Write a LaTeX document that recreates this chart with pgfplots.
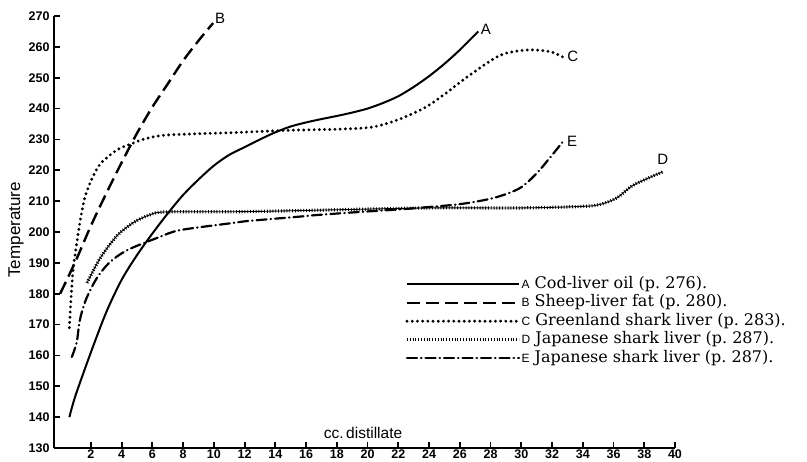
\documentclass[border=0pt]{standalone}
\usepackage{fontspec}
\setsansfont{Liberation Sans}
\newfontfamily\legfont{DejaVu Serif}
\usepackage{pgfplots}
\pgfplotsset{compat=1.18}
\begin{document}
\begin{tikzpicture}
\begin{axis}[
  at={(54pt,14pt)}, anchor=south west,
  scale only axis, width=621pt, height=432pt,
  xmin=-0.4, xmax=40, ymin=130, ymax=270,
  axis x line*=bottom, axis y line*=left,
  axis line style={line width=2.6pt,-},
  xtick={2,4,...,40}, ytick={130,140,...,270},
  tick align=inside, major tick length=6pt,
  tick style={line width=1.8pt,black},
  /pgf/number format/assume math mode=true,
  ticklabel style={font=\sffamily\bfseries\fontsize{12.5}{13}\selectfont},
  yticklabel style={xshift=-1pt},
  xticklabel style={yshift=2pt},
  xlabel={cc.\,distillate},
  xlabel style={at={(axis description cs:0.4976,0.035)}, anchor=center, font=\sffamily\fontsize{15.5}{16}\selectfont},
  ylabel={Temperature},
  ylabel style={at={(axis description cs:-0.061,0.505)}, anchor=center, font=\sffamily\fontsize{17}{18}\selectfont},
  clip=false,
  legend image code/.code={\draw[#1] (0pt,0pt) -- (112pt,0pt);},
  legend cell align=left,
  legend style={draw=none, fill=none, at={(axis cs:22.45,185.9)}, anchor=north west,
    inner sep=0pt, row sep=1.5pt,
    font=\legfont\fontsize{16}{18}\selectfont,
    nodes={inner sep=1pt, text height=11.5pt, text depth=3.5pt},
    /tikz/every even column/.append style={column sep=0pt}},
]
% A Cod-liver oil
\addplot[black, line width=2pt, smooth] coordinates {
 (0.6,140) (1,147) (2,161) (3,174) (4,184.5) (5,192.5) (6,199.5) (7,206)
 (8,212) (9,217) (10,221.5) (11,225) (12,227.5) (13,230) (14,232.3)
 (15,234.2) (16,235.5) (17,236.6) (18,237.6) (19,238.7) (20,240) (21,241.8)
 (22,244) (23,247) (24,250.5) (25,254.5) (26,259) (27.2,265)};
\addlegendentry{{\sffamily\fontsize{12}{12}\selectfont A}\ Cod-liver oil (p.~276).}
% B Sheep-liver fat
\addplot[black, line width=2.4pt, dash pattern=on 13pt off 6pt, smooth] coordinates {
 (0,180) (1,190.5) (2,202) (3,212.5) (4,222.5) (5,232) (6,240.5) (7,248)
 (8,255.5) (9,262) (9.95,267.7)};
\addlegendentry{{\sffamily\fontsize{12}{12}\selectfont B}\ Sheep-liver fat (p.~280).}
% C Greenland shark liver
\addplot[black, line width=3.2pt, line cap=round, dash pattern=on 0pt off 5.2pt, smooth] coordinates {
 (0.6,169) (0.7,178) (0.85,188) (1.1,197) (1.35,205) (1.6,211) (2.0,216.5)
 (2.6,222) (3.7,226.6) (4.75,228.8) (5.4,230) (6.9,231.4) (11.2,232.2)
 (15.2,233) (18,233.3) (20.3,234) (22.1,236.6) (23.8,240.5) (25.1,245)
 (26.5,250.3) (28.6,257.2) (30.4,259) (31.9,258.4) (32.7,256.7)};
\addlegendentry{{\sffamily\fontsize{12}{12}\selectfont C}\ Greenland shark liver (p.~283).}
% D Japanese shark liver (thin core line)
\addplot[black, line width=0.9pt, smooth, forget plot] coordinates {
 (1.75,183.5) (2.6,191.5) (3.7,198.8) (4.75,203) (5.8,205.5) (6.9,206.5)
 (12,206.6) (18,207.2) (24,207.8) (30,207.8) (34,208.3) (35.1,208.9)
 (36.2,211) (37.3,215.2) (39.2,219.5)};
% D Japanese shark liver (wavy texture)
\addplot[black, line width=3.2pt, dash pattern=on 0.9pt off 1.9pt, smooth,
  legend image code/.code={\draw[black,line width=0.9pt] (0pt,0pt) -- (112pt,0pt); \draw[black,line width=3.2pt,dash pattern=on 0.9pt off 1.9pt] (0pt,0pt) -- (112pt,0pt);}] coordinates {
 (1.75,183.5) (2.6,191.5) (3.7,198.8) (4.75,203) (5.8,205.5) (6.9,206.5)
 (12,206.6) (18,207.2) (24,207.8) (30,207.8) (34,208.3) (35.1,208.9)
 (36.2,211) (37.3,215.2) (39.2,219.5)};
\addlegendentry{{\sffamily\fontsize{12}{12}\selectfont D}\ Japanese shark liver (p.~287).}
% E Japanese shark liver
\addplot[black, line width=2.2pt, line cap=round, dash pattern=on 10pt off 4pt on 0.5pt off 4pt, smooth] coordinates {
 (0.76,159.5) (1.08,164.3) (1.28,171.4) (1.67,178) (2.38,185) (3.23,190.2)
 (4.4,194.2) (6.48,198.4) (7.8,200.6) (11.2,202.9) (12.3,203.6) (15.4,204.9)
 (16.7,205.5) (19.5,206.5) (22,207.3) (25.4,208.7) (26.9,209.7) (28.4,211.3)
 (29.9,214.2) (31,219) (31.9,224.3) (32.7,229.2)};
\addlegendentry{{\sffamily\fontsize{12}{12}\selectfont E}\ Japanese shark liver (p.~287).}
% curve labels
\node[font=\sffamily\fontsize{15}{15}\selectfont, anchor=west, inner sep=1pt] at (axis cs:27.3,265.8) {A};
\node[font=\sffamily\fontsize{15}{15}\selectfont, anchor=west, inner sep=1pt] at (axis cs:10.0,269.2) {B};
\node[font=\sffamily\fontsize{15}{15}\selectfont, anchor=center] at (axis cs:33.35,257) {C};
\node[font=\sffamily\fontsize{15}{15}\selectfont, anchor=center] at (axis cs:39.2,223.5) {D};
\node[font=\sffamily\fontsize{15}{15}\selectfont, anchor=center] at (axis cs:33.3,229.5) {E};
\end{axis}
\pgfresetboundingbox
\useasboundingbox (0,0) rectangle (807pt,462pt);
\end{tikzpicture}
\end{document}
